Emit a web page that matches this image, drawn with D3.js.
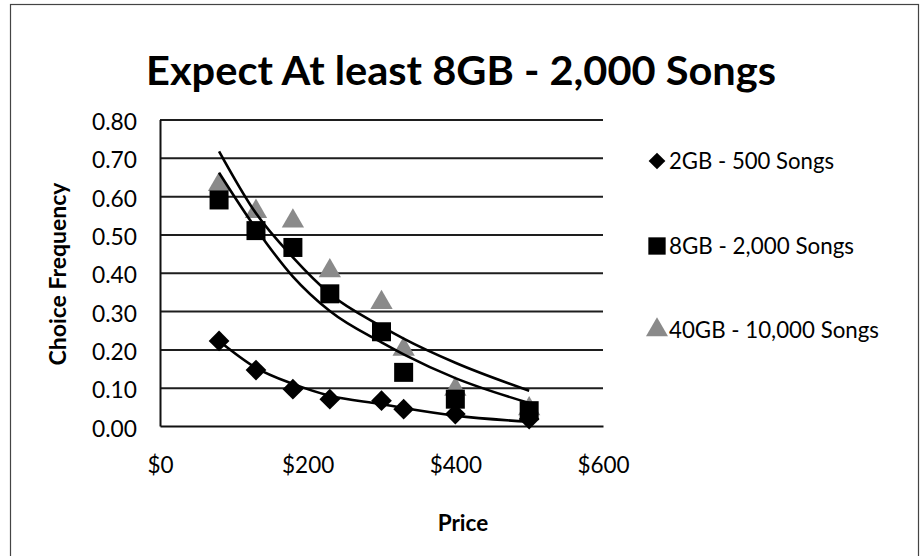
<!DOCTYPE html>
<html>
<head>
<meta charset="utf-8">
<script src="https://cdn.jsdelivr.net/npm/d3@7"></script>
<style>
  html, body { margin: 0; padding: 0; background: #fff; }
  svg { display: block; }
  text { font-family: Lato, "Open Sans", sans-serif; fill: #000; }
</style>
</head>
<body>
<script>
// ---------------- data ----------------
const titleText = "Expect At least 8GB - 2,000 Songs";
const xTitle = "Price";
const yTitle = "Choice Frequency";
const prices = [80, 130, 180, 230, 300, 330, 400, 500];
const seriesNames = ["2GB - 500 Songs", "8GB - 2,000 Songs", "40GB - 10,000 Songs"];
const values2GB  = [0.222, 0.146, 0.096, 0.070, 0.066, 0.044, 0.031, 0.018];
const values8GB  = [0.590, 0.510, 0.466, 0.345, 0.246, 0.140, 0.070, 0.040];
const values40GB = [0.630, 0.560, 0.535, 0.405, 0.322, 0.200, 0.096, 0.045];
// fitted curves
const trend2GB  = [0.222, 0.152, 0.110, 0.079, 0.057, 0.047, 0.027, 0.011];
const trend8GB  = [0.661, 0.515, 0.390, 0.300, 0.218, 0.187, 0.125, 0.060];
const trend40GB = [0.717, 0.555, 0.440, 0.345, 0.260, 0.228, 0.165, 0.092];
const yTicks = [0, 0.1, 0.2, 0.3, 0.4, 0.5, 0.6, 0.7, 0.8];
const xTicks = [0, 200, 400, 600];

// ---------------- layout ----------------
const W = 922, H = 556;
const plot = { left: 160, right: 603, top: 119.5, bottom: 426 };

const svg = d3.select("body").append("svg").attr("width", W).attr("height", H);
svg.append("rect").attr("width", W).attr("height", H).attr("fill", "#fff");
svg.append("rect").attr("x", 10.5).attr("y", 4.5).attr("width", 908).attr("height", 600)
  .attr("fill", "none").attr("stroke", "#444").attr("stroke-width", 1.2);

const x = d3.scaleLinear().domain([0, 600]).range([plot.left, plot.right]);
const y = d3.scaleLinear().domain([0, 0.8]).range([plot.bottom, plot.top]);

function fitWidth(sel, w) {
  sel.attr("textLength", w).attr("lengthAdjust", "spacingAndGlyphs");
}

// title
svg.append("text").attr("x", 461).attr("y", 85).attr("text-anchor", "middle")
  .attr("font-size", 41).attr("font-weight", "bold").text(titleText)
  .call(fitWidth, 630);

// gridlines
const grid = svg.append("g").attr("transform", `translate(${plot.left},0)`)
  .call(d3.axisLeft(y).tickValues(yTicks.filter(d => d > 0)).tickSize(-(plot.right - plot.left)).tickFormat(""));
grid.select(".domain").remove();
grid.selectAll("line").attr("stroke", "#1e1e1e").attr("stroke-width", 2);

// y axis
const yAxis = svg.append("g").attr("transform", `translate(${plot.left},0)`)
  .call(d3.axisLeft(y).tickValues(yTicks).tickSize(0).tickPadding(23).tickFormat(d3.format(".2f")));
yAxis.select(".domain").attr("stroke", "#111").attr("stroke-width", 2);
yAxis.selectAll("text").attr("font-size", 22.5).attr("font-family", "Lato, sans-serif")
  .attr("dy", "0.45em").call(fitWidth, 45);

// x axis
const xAxis = svg.append("g").attr("transform", `translate(0,${plot.bottom})`)
  .call(d3.axisBottom(x).tickValues(xTicks).tickSize(0).tickFormat(d => "$" + d));
xAxis.select(".domain").attr("stroke", "#111").attr("stroke-width", 2.2);
xAxis.selectAll("text").attr("font-size", 22.5).attr("font-family", "Lato, sans-serif")
  .attr("y", 47).attr("dy", 0);

// axis titles
svg.append("text").attr("x", 463).attr("y", 531).attr("text-anchor", "middle")
  .attr("font-size", 22.5).attr("font-weight", "bold").text(xTitle);
svg.append("text").attr("transform", "translate(66,274) rotate(-90)").attr("text-anchor", "middle")
  .attr("font-size", 22.5).attr("font-weight", "bold").text(yTitle).call(fitWidth, 183);

// markers
const styles = [
  { fill: "#000", path: d3.symbol().type(d3.symbolSquare).size(215)(), rot: 45 },
  { fill: "#000", path: d3.symbol().type(d3.symbolSquare).size(361)(), rot: 0 },
  { fill: "#8a8a8a", path: d3.symbol().type(d3.symbolTriangle).size(215)(), rot: 0 }
];
const allValues = [values2GB, values8GB, values40GB];
const allTrends = [trend2GB, trend8GB, trend40GB];

const drawOrder = [2, 1, 0];
drawOrder.forEach(i => {
  svg.append("g").selectAll("path").data(prices.map((p, k) => [p, allValues[i][k]]))
    .join("path")
    .attr("d", styles[i].path)
    .attr("transform", d => `translate(${x(d[0])},${y(d[1])}) rotate(${styles[i].rot})`)
    .attr("fill", styles[i].fill);
});

// fitted curves
const line = d3.line().x((d, k) => x(prices[k])).y(d => y(d)).curve(d3.curveMonotoneX);
allTrends.forEach(t => {
  svg.append("path").attr("d", line(t)).attr("fill", "none")
    .attr("stroke", "#000").attr("stroke-width", 2.6);
});

// legend
const legendY = [161, 246, 330];
const legendW = [165, 185, 210];
const legendMarkers = [
  d3.symbol().type(d3.symbolSquare).size(140)(),
  d3.symbol().type(d3.symbolSquare).size(300)(),
  d3.symbol().type(d3.symbolTriangle).size(210)()
];
seriesNames.forEach((name, i) => {
  const g = svg.append("g").attr("transform", `translate(0,${legendY[i]})`);
  g.append("path").attr("d", legendMarkers[i])
    .attr("transform", `translate(657,0) rotate(${styles[i].rot})`).attr("fill", styles[i].fill);
  g.append("text").attr("x", 669).attr("y", 8).attr("font-size", 22.5).text(name)
    .call(fitWidth, legendW[i]);
});
</script>
</body>
</html>
